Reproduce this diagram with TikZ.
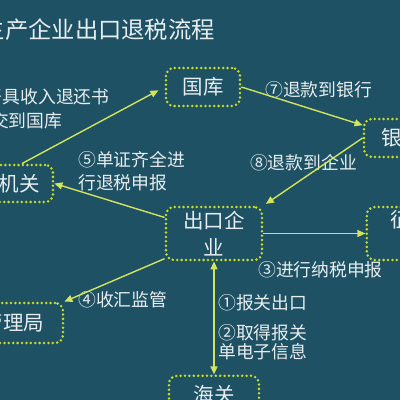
\documentclass[tikz,border=0pt]{standalone}
\usepackage{fontspec}
\setmainfont{Noto Sans CJK SC}
\usepackage{tikz}
\usetikzlibrary{positioning,arrows.meta}
\definecolor{bgteal}{HTML}{1E5163}
\definecolor{dotgreen}{HTML}{C8DC2A}
\definecolor{arrgreen}{HTML}{D2E45C}
\definecolor{txtwhite}{HTML}{E8EEF0}
\tikzset{
  box/.style={draw=dotgreen, line width=2.8pt, dash pattern=on 0pt off 4.4pt, line cap=round,
    rounded corners=8pt, text=txtwhite, font=\fontsize{20.5}{27}\selectfont, align=center, inner sep=0pt},
  lbl/.style={text=txtwhite, font=\fontsize{17.8}{23}\selectfont, align=left, anchor=west, inner sep=0pt},
  flow/.style={draw=arrgreen, line width=1.4pt, >={Triangle[length=8pt,width=7pt]}, ->},
}
\begin{document}
\begin{tikzpicture}[x=1pt,y=-1pt]
			\useasboundingbox (0,0) rectangle (400,400);
			\fill[bgteal] (0,0) rectangle (400,400);
			\clip (0,0) rectangle (400,400);
			\node[text=txtwhite, font=\fontsize{23.3}{28}\selectfont, anchor=west, inner sep=0pt] (title) at (-18.3,30) {生产企业出口退税流程};
			\node[box, minimum width=74pt, minimum height=38pt] (gk) at (203,87) {国库};
			\node[box, minimum width=76pt, minimum height=38pt] (yh) at (402,138) {银行};
			\node[box, minimum width=108pt, minimum height=37pt] (sw) at (-1,183.5) {税务机关};
			\node[box, minimum width=96pt, minimum height=53pt] (qy) at (214,233.5) {出口企\\业};
			\node[box, minimum width=108pt, minimum height=53pt, right=102pt of qy] (zs) {征税机\\关};
			\node[box, minimum width=140pt, minimum height=40pt] (wh) at (-7,323) {外汇管理局};
			\node[box, minimum width=90pt, minimum height=38pt, below=113pt of qy] (hg) {海关};
			\node[lbl, font=\fontsize{17.8}{24}\selectfont] (l6) at (-33,109) {⑥开具收入退还书\\\hspace*{24pt}交到国库};
			\node[lbl] (l5) at (78,171.5) {⑤单证齐全进\\行退税申报};
			\node[lbl] (l7) at (265,90) {⑦退款到银行};
			\node[lbl] (l8) at (250,163) {⑧退款到企业};
			\node[lbl] (l4) at (78,300) {④收汇监管};
			\node[lbl] (l3) at (258,270) {③进行纳税申报};
			\node[lbl] (l1) at (218,303) {①报关出口};
			\node[lbl, font=\fontsize{17.8}{19.5}\selectfont] (l2) at (218,342) {②取得报关\\单电子信息};
			\draw[flow, shorten >=7pt] (sw.41) -- (gk.west);
			\draw[flow] (qy.162) -- (sw.east);
			\draw[flow] (qy.207) -- (wh.north east);
			\draw[flow] (gk.east) -- (yh.162);
			\draw[flow, shorten >=3pt] (yh.west) -- (qy.north east);
			\draw[flow] (qy.east) -- (zs.west);
			\draw[flow, <->] (qy.south) -- (qy.south |- hg.north);
		\end{tikzpicture}
\end{document}
